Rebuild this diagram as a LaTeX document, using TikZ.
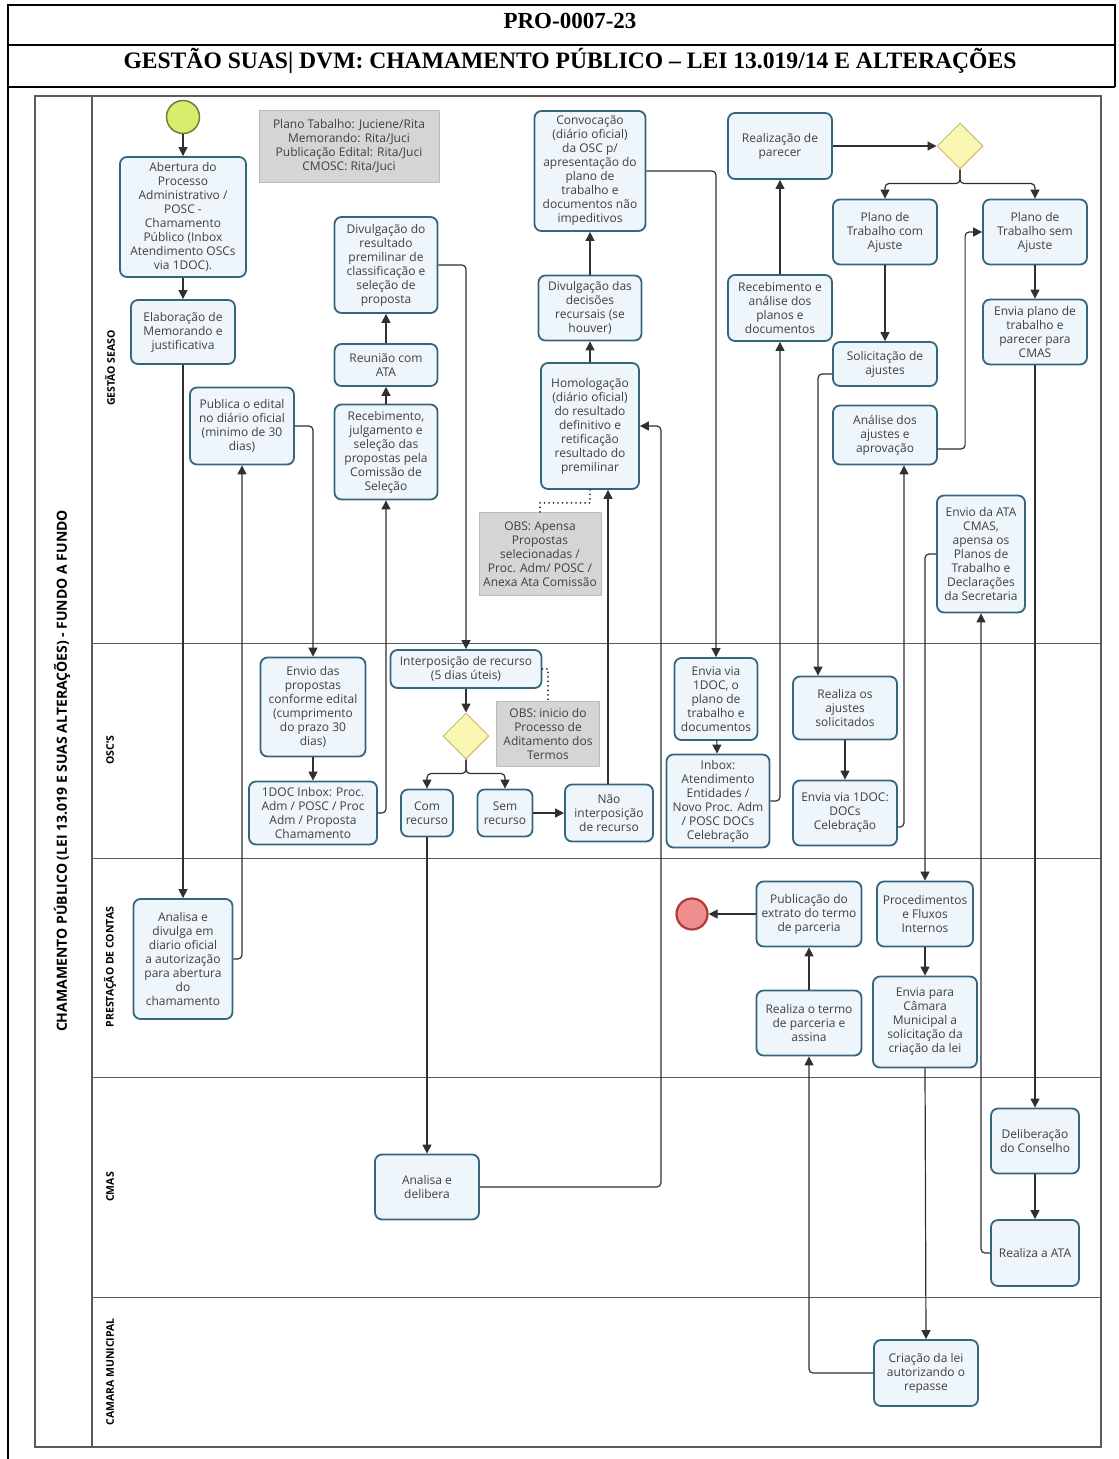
\documentclass[tikz,border=0pt]{standalone}
\usepackage{fontspec}
\setmainfont{Open Sans}
\newfontfamily\headfont{Liberation Serif}
\usetikzlibrary{arrows.meta,shapes.geometric}

\definecolor{taskfill}{HTML}{EEF6FC}
\definecolor{taskline}{HTML}{36657F}
\definecolor{txt}{HTML}{404040}
\definecolor{flowc}{HTML}{303030}
\definecolor{notefill}{HTML}{D5D5D5}
\definecolor{noteline}{HTML}{BABABA}
\definecolor{gatefill}{HTML}{FAF6B4}
\definecolor{gateline}{HTML}{C4BC70}
\definecolor{startfill}{HTML}{D6EE6C}
\definecolor{startline}{HTML}{6E7E3E}
\definecolor{endfill}{HTML}{EE8E8E}
\definecolor{endline}{HTML}{B03A3A}
\definecolor{poolline}{HTML}{5A5A5A}

\begin{document}
\begin{tikzpicture}[x=1pt,y=-1pt,
  task/.style={draw=taskline, fill=taskfill, rounded corners=7pt, line width=1.8pt,
    align=center, text=txt, font=\fontsize{12}{14}\selectfont, inner sep=1pt},
  note/.style={draw=noteline, fill=notefill, line width=0.8pt,
    align=center, text=txt, font=\fontsize{12}{14}\selectfont, inner sep=1pt},
  gate/.style={diamond, draw=gateline, fill=gatefill, line width=1pt,
    minimum width=46pt, minimum height=46pt, inner sep=0pt},
  startev/.style={circle, draw=startline, fill=startfill, line width=1.5pt,
    minimum size=33pt, inner sep=0pt},
  endev/.style={circle, draw=endline, fill=endfill, line width=2.2pt,
    minimum size=31pt, inner sep=0pt},
  flow/.style={draw=flowc, line width=1.2pt, rounded corners=4pt,
    -{Triangle[length=9pt,width=9pt]}},
  assoc/.style={draw=flowc, line width=2pt, line cap=round,
    dash pattern=on 0pt off 4.5pt},
  lanelabel/.style={rotate=90, font=\fontsize{10.5}{12}\selectfont\bfseries, text=black},
  table/.style={draw=black, line width=1.5pt}
]
\useasboundingbox (0,0) rectangle (1119,1459);

% ---------- document header table ----------
\draw[table] (8,1459) -- (8,5) -- (1115,5) -- (1115,87);
\draw[table] (8,45) -- (1115,45);
\draw[table] (8,87) -- (1115,87);
\node[font=\headfont\bfseries\fontsize{23}{26}\selectfont] (code) at (570,21) {PRO-0007-23};
\node[font=\headfont\bfseries\fontsize{23.6}{26}\selectfont] (title) at (570,61)
  {GESTÃO SUAS| DVM: CHAMAMENTO PÚBLICO – LEI 13.019/14 E ALTERAÇÕES};

% ---------- pool and lanes ----------
\draw[poolline, line width=1.2pt] (35,96) rectangle (1101,1447);
\draw[poolline, line width=1.2pt] (92,96) -- (92,1447);
\draw[poolline, line width=1pt] (92,643) -- (1101,643);
\draw[poolline, line width=1pt] (92,858) -- (1101,858);
\draw[poolline, line width=1pt] (92,1077) -- (1101,1077);
\draw[poolline, line width=1pt] (92,1297) -- (1101,1297);

\node[rotate=90, font=\fontsize{14}{16}\selectfont\bfseries] (pooltitle) at (62,771)
  {CHAMAMENTO PÚBLICO (LEI 13.019 E SUAS ALTERAÇÕES) - FUNDO A FUNDO};
\node[lanelabel] (lgestao) at (110,368) {GESTÃO SEASO};
\node[lanelabel] (losc) at (110,750) {OSC'S};
\node[lanelabel] (lprest) at (110,967) {PRESTAÇÃO DE CONTAS};
\node[lanelabel] (lcmas) at (110,1187) {CMAS};
\node[lanelabel] (lcam) at (110,1372) {CAMARA MUNICIPAL};

% ---------- lane: GESTÃO SEASO ----------
\node[startev] (start) at (183,117) {};
\node[task, minimum width=126pt, minimum height=120pt] (abertura) at (183,217)
  {Abertura do\\Processo\\Administrativo /\\POSC -\\Chamamento\\Público (Inbox\\Atendimento OSCs\\via 1DOC).};
\node[task, minimum width=104pt, minimum height=64pt] (elabora) at (183,332)
  {Elaboração de\\Memorando e\\justificativa};
\node[note, minimum width=180pt, minimum height=72pt] (nota1) at (349,146)
  {Plano Tabalho: Juciene/Rita\\Memorando: Rita/Juci\\Publicação Edital: Rita/Juci\\CMOSC: Rita/Juci};
\node[task, minimum width=104pt, minimum height=77pt] (publica) at (242,426)
  {Publica o edital\\no diário oficial\\(minimo de 30\\dias)};
\node[task, minimum width=103pt, minimum height=95pt] (receb) at (386,452)
  {Recebimento,\\julgamento e\\seleção das\\propostas pela\\Comissão de\\Seleção};
\node[task, minimum width=103pt, minimum height=42pt] (reuniao) at (386,365)
  {Reunião com\\ATA};
\node[task, minimum width=103pt, minimum height=96pt] (divres) at (386,265)
  {Divulgação do\\resultado\\premilinar de\\classificação e\\seleção de\\proposta};
\node[task, minimum width=111pt, minimum height=120pt] (convoc) at (590,171)
  {Convocação\\(diário oficial)\\da OSC p/\\apresentação do\\plano de\\trabalho e\\documentos não\\impeditivos};
\node[task, minimum width=103pt, minimum height=65pt] (divrec) at (590,308)
  {Divulgação das\\decisões\\recursais (se\\houver)};
\node[task, minimum width=98pt, minimum height=126pt] (homolog) at (590,426)
  {Homologação\\(diário oficial)\\do resultado\\definitivo e\\retificação\\resultado do\\premilinar};
\node[note, minimum width=122pt, minimum height=83pt] (nota2) at (540,554)
  {OBS: Apensa\\Propostas\\selecionadas /\\Proc. Adm/ POSC /\\Anexa Ata Comissão};
\node[task, minimum width=104pt, minimum height=66pt] (parecer) at (780,146)
  {Realização de\\parecer};
\node[task, minimum width=104pt, minimum height=66pt] (analise) at (780,308)
  {Recebimento e\\análise dos\\planos e\\documentos};
\node[gate] (gate1) at (960,146) {};
\node[task, minimum width=104pt, minimum height=65pt] (comaj) at (885,232)
  {Plano de\\Trabalho com\\Ajuste};
\node[task, minimum width=104pt, minimum height=65pt] (semaj) at (1035,232)
  {Plano de\\Trabalho sem\\Ajuste};
\node[task, minimum width=104pt, minimum height=44pt] (solic) at (885,364)
  {Solicitação de\\ajustes};
\node[task, minimum width=104pt, minimum height=59pt] (analaj) at (885,435)
  {Análise dos\\ajustes e\\aprovação};
\node[task, minimum width=104pt, minimum height=65pt] (enviaplano) at (1035,332)
  {Envia plano de\\trabalho e\\parecer para\\CMAS};
\node[task, minimum width=88pt, minimum height=117pt] (envioata) at (981,554)
  {Envio da ATA\\CMAS,\\apensa os\\Planos de\\Trabalho e\\Declarações\\da Secretaria};

% ---------- lane: OSC'S ----------
\node[task, minimum width=105pt, minimum height=99pt] (envprop) at (313,707)
  {Envio das\\propostas\\conforme edital\\(cumprimento\\do prazo 30\\dias)};
\node[task, minimum width=128pt, minimum height=63pt] (inbox1) at (313,813)
  {1DOC Inbox: Proc.\\Adm / POSC / Proc\\Adm / Proposta\\Chamamento};
\node[task, minimum width=151pt, minimum height=38pt] (interp) at (466,669)
  {Interposição de recurso\\(5 dias úteis)};
\node[gate] (gate2) at (466,736) {};
\node[note, minimum width=103pt, minimum height=65pt] (nota3) at (548,734)
  {OBS: inicio do\\Processo de\\Aditamento dos\\Termos};
\node[task, minimum width=52pt, minimum height=47pt] (com) at (427,813)
  {Com\\recurso};
\node[task, minimum width=55pt, minimum height=47pt] (sem) at (505,813)
  {Sem\\recurso};
\node[task, minimum width=88pt, minimum height=57pt] (naoint) at (609,813)
  {Não\\interposição\\de recurso};
\node[task, minimum width=83pt, minimum height=82pt] (envia1doc) at (716,699)
  {Envia via\\1DOC, o\\plano de\\trabalho e\\documentos};
\node[task, minimum width=103pt, minimum height=93pt] (inbox2) at (718,801)
  {Inbox:\\Atendimento\\Entidades /\\Novo Proc. Adm\\/ POSC DOCs\\Celebração};
\node[task, minimum width=104pt, minimum height=63pt] (realaj) at (845,708)
  {Realiza os\\ajustes\\solicitados};
\node[task, minimum width=104pt, minimum height=65pt] (enviadocs) at (845,813)
  {Envia via 1DOC:\\DOCs\\Celebração};

% ---------- lane: PRESTAÇÃO DE CONTAS ----------
\node[task, minimum width=99pt, minimum height=120pt] (anadiv) at (183,959)
  {Analisa e\\divulga em\\diario oficial\\a autorização\\para abertura\\do\\chamamento};
\node[endev] (endc) at (692,914) {};
\node[task, minimum width=105pt, minimum height=65pt] (publext) at (809,914)
  {Publicação do\\extrato do termo\\de parceria};
\node[task, minimum width=96pt, minimum height=65pt] (proced) at (925,914)
  {Procedimentos\\e Fluxos\\Internos};
\node[task, minimum width=105pt, minimum height=65pt] (termo) at (809,1023)
  {Realiza o termo\\de parceria e\\assina};
\node[task, minimum width=104pt, minimum height=91pt] (enviacam) at (925,1022)
  {Envia para\\Câmara\\Municipal a\\solicitação da\\criação da lei};

% ---------- lane: CMAS ----------
\node[task, minimum width=104pt, minimum height=65pt] (anadel) at (427,1187)
  {Analisa e\\delibera};
\node[task, minimum width=88pt, minimum height=65pt] (delib) at (1035,1141)
  {Deliberação\\do Conselho};
\node[task, minimum width=88pt, minimum height=66pt] (realata) at (1035,1253)
  {Realiza a ATA};

% ---------- lane: CAMARA MUNICIPAL ----------
\node[task, minimum width=104pt, minimum height=66pt] (criacao) at (926,1373)
  {Criação da lei\\autorizando o\\repasse};

% ---------- sequence flows ----------
\draw[flow] (start) -- (abertura);
\draw[flow] (abertura) -- (elabora);
\draw[flow] (elabora.south) -- (anadiv.north);
\draw[flow] (anadiv.east) -| (publica.south);
\draw[flow] (publica.east) -| (envprop.north);
\draw[flow] (envprop) -- (inbox1);
\draw[flow] (inbox1.east) -| (receb.south);
\draw[flow] (receb) -- (reuniao);
\draw[flow] (reuniao) -- (divres);
\draw[flow] (divres.east) -| (interp.north);
\draw[flow] (interp) -- (gate2);
\draw[flow] (gate2.south) -- ++(0,14) -| (com.north);
\draw[flow] (gate2.south) -- ++(0,14) -| (sem.north);
\draw[flow] (sem) -- (naoint);
\draw[flow] ([xshift=-1pt]naoint.north) -- ([xshift=-1pt]naoint.north |- homolog.south);
\draw[flow] (com.south) -- (anadel.north);
\draw[flow] (anadel.east) -| ([xshift=21pt]homolog.east) -- (homolog.east);
\draw[flow] (homolog) -- (divrec);
\draw[flow] (divrec) -- (convoc);
\draw[flow] (convoc.east) -| (envia1doc.north);
\draw[flow] (envia1doc) -- (inbox2);
\draw[flow] (inbox2.east) -| (analise.south);
\draw[flow] (analise) -- (parecer);
\draw[flow] (parecer) -- (gate1);
\draw[flow] (gate1.south) -- ++(0,14) -| (comaj.north);
\draw[flow] (gate1.south) -- ++(0,14) -| (semaj.north);
\draw[flow] (comaj) -- (solic);
\draw[flow] ([yshift=-10pt]solic.west) -| ([xshift=-27pt]realaj.north);
\draw[flow] (realaj) -- (enviadocs);
\draw[flow] ([yshift=-14pt]enviadocs.east) -| ([xshift=19pt]analaj.south);
\draw[flow] ([yshift=-14pt]analaj.east) -| ([xshift=-17pt]semaj.west) -- (semaj.west);
\draw[flow] (semaj) -- (enviaplano);
\draw[flow] (enviaplano.south) -- (delib.north);
\draw[flow] (delib) -- (realata);
\draw[flow] (realata.west) -| (envioata.south);
\draw[flow] (envioata.west) -| (proced.north);
\draw[flow] (proced) -- (enviacam);
\draw[flow] (enviacam.south) -- (criacao.north);
\draw[flow] (criacao.west) -| (termo.south);
\draw[flow] (termo) -- (publext);
\draw[flow] (publext) -- (endc);

% ---------- annotation links ----------
\draw[assoc] (homolog.south) -- ++(0,13) -| (nota2.north);
\draw[assoc] (interp.east) -| (nota3.north);
\end{tikzpicture}
\end{document}
